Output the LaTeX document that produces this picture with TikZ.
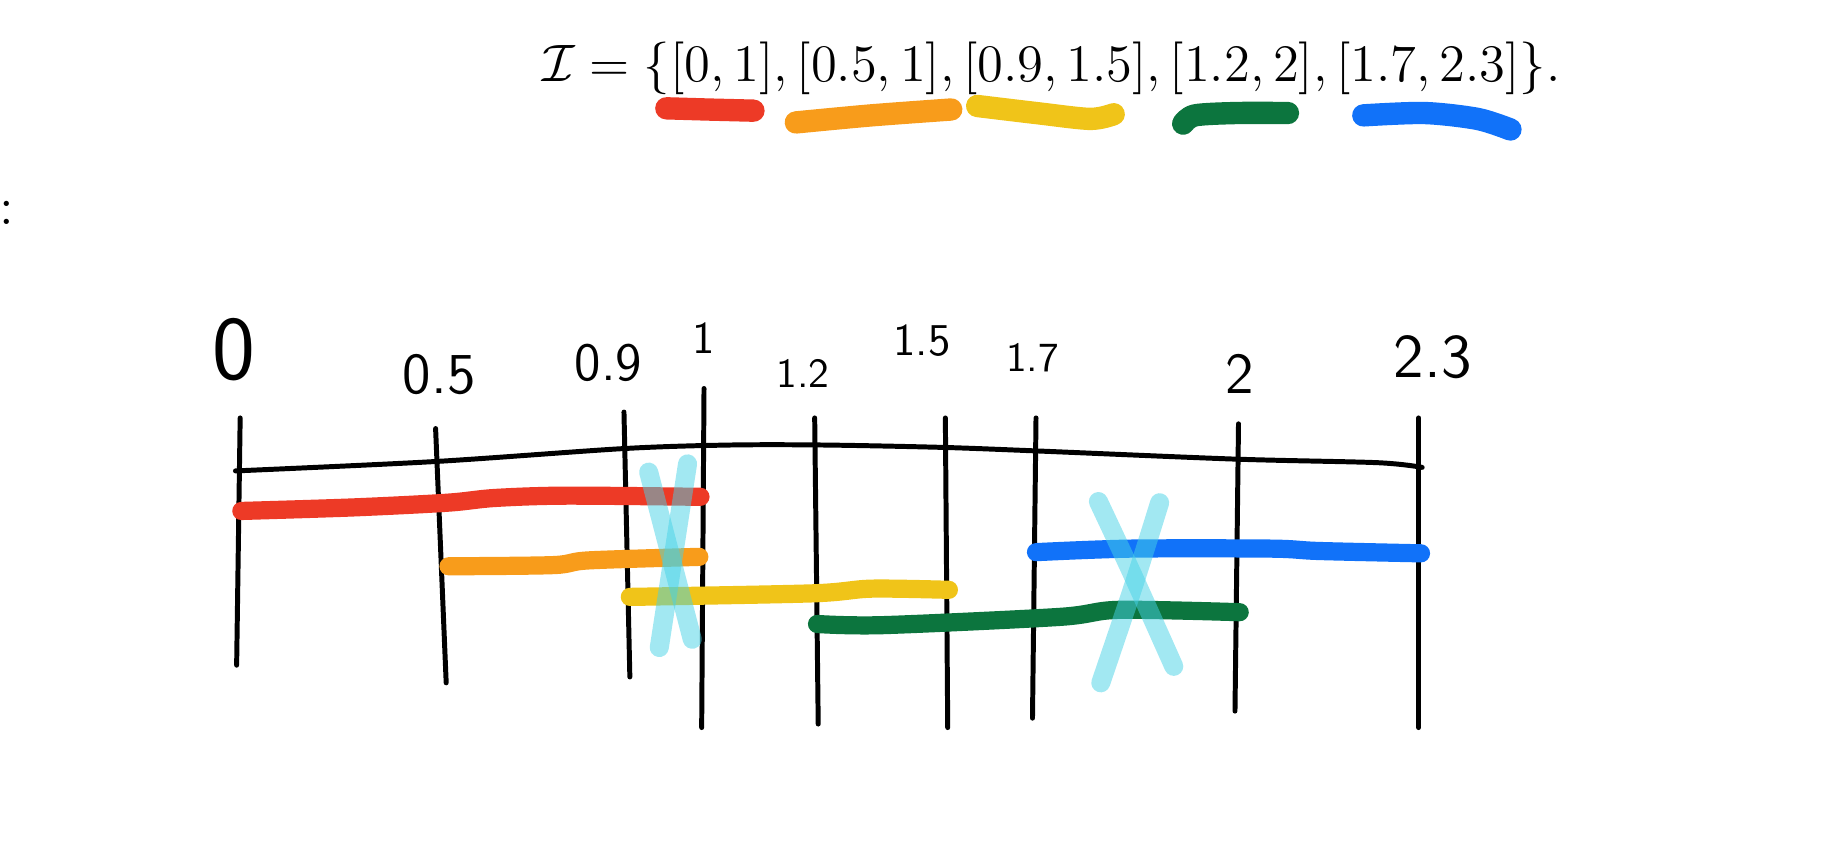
\documentclass[tikz,border=0pt]{standalone}
\usepackage{amsmath}
\usepackage{amssymb}
\usepackage{graphicx}
\usepackage{xcolor}
\usepackage{tikz}
\usetikzlibrary{arrows.meta,positioning,calc}
\definecolor{ivred}{RGB}{237,58,38}
\definecolor{ivorange}{RGB}{248,156,27}
\definecolor{ivyellow}{RGB}{240,196,25}
\definecolor{ivgreen}{RGB}{12,117,62}
\definecolor{ivblue}{RGB}{17,114,249}
\definecolor{ivcyan}{RGB}{70,210,230}
\newcommand{\handsize}[1]{\sffamily\fontsize{#1}{#1}\selectfont}

\begin{document}
\begin{tikzpicture}[
  x=0.01cm, y=-0.01cm,
  axisline/.style={line width=1.2pt, line cap=round, line join=round},
  tickline/.style={line width=1.2pt, line cap=round},
  interval/.style={line width=4.4pt, line cap=round, line join=round},
  swatch/.style={line width=5.4pt, line cap=round, line join=round},
  crossout/.style={line width=4.6pt, line cap=round, draw=ivcyan, opacity=0.5},
  hand/.style={inner sep=0pt},
]
\useasboundingbox (0,0) rectangle (1568,736);

% The set of intervals
\node[anchor=base, font=\fontsize{12}{14}\selectfont] (set) at (893,69)
  {\scalebox{1.06}{$\mathcal{I} = \{[0,1],[0.5,1],[0.9,1.5],[1.2,2],[1.7,2.3]\}.$}};
\node[anchor=west, font=\fontsize{13}{15}\selectfont] (cut) at (-13,181) {:};

% Colour swatches under the set
\draw[swatch, ivred] (566,92) -- (600,93) -- (640,94);
\draw[swatch, ivorange] plot[smooth] coordinates {(676,104) (740,98) (808,93)};
\draw[swatch, ivyellow] plot[smooth] coordinates {(830,90) (880,96) (926,101) (946,97)};
\draw[swatch, ivgreen] plot[smooth] coordinates {(1005,105) (1015,98) (1050,96) (1094,96)};
\draw[swatch, ivblue] plot[smooth] coordinates {(1158,98) (1210,96) (1255,101) (1283,110)};

% Tick labels
\node[hand, font=\handsize{22}] (l0) at (199,297) {0};
\node[hand, font=\handsize{14}] (l05) at (373,318) {0.5};
\node[hand, font=\handsize{13}] (l09) at (517,308) {0.9};
\node[hand, font=\handsize{11}] (l1) at (598,287) {1};
\node[hand, font=\handsize{10}] (l12) at (682,317) {1.2};
\node[hand, font=\handsize{11}] (l15) at (783,289) {1.5};
\node[hand, font=\handsize{10}] (l17) at (877,304) {1.7};
\node[hand, font=\handsize{14}] (l2) at (1053,318) {2};
\node[hand, font=\handsize{15}] (l23) at (1217,303) {2.3};

% Number line
\draw[axisline] plot[smooth] coordinates {(200,400) (370,392) (530,381) (620,378)
  (700,378) (800,380) (880,383) (1050,390) (1170,393) (1208,397)};
\foreach \xt/\yt/\xb/\yb in {204/355/201/565, 370/364/379/580, 530/350/535/575,
  598/330/596/618, 692/355/695/615, 803/355/805/618, 880/355/877/610,
  1052/360/1049/604, 1205/355/1205/618}
  \draw[tickline] (\xt,\yt) -- (\xb,\yb);

% Intervals
\draw[interval, ivred] plot[smooth] coordinates {(205,434) (300,431) (380,427) (420,423) (480,421) (595,422)};
\draw[interval, ivorange] plot[smooth] coordinates {(381,481) (470,480) (500,476) (594,473)};
\draw[interval, ivyellow] plot[smooth] coordinates {(535,507) (690,504) (740,500) (806,501)};
\draw[interval, ivgreen] plot[smooth] coordinates {(694,530) (750,531) (900,524) (950,518) (1053,520)};
\draw[interval, ivblue] plot[smooth] coordinates {(880,469) (960,466) (1080,466) (1120,468) (1207,470)};

% Crossed-out parts
\draw[crossout] (551,401) -- (588,543);
\draw[crossout] (584,394) -- (560,550);
\draw[crossout] plot[smooth] coordinates {(933,426) (962,488) (997,566)};
\draw[crossout] plot[smooth] coordinates {(985,427) (962,500) (935,580)};

\end{tikzpicture}
\end{document}
